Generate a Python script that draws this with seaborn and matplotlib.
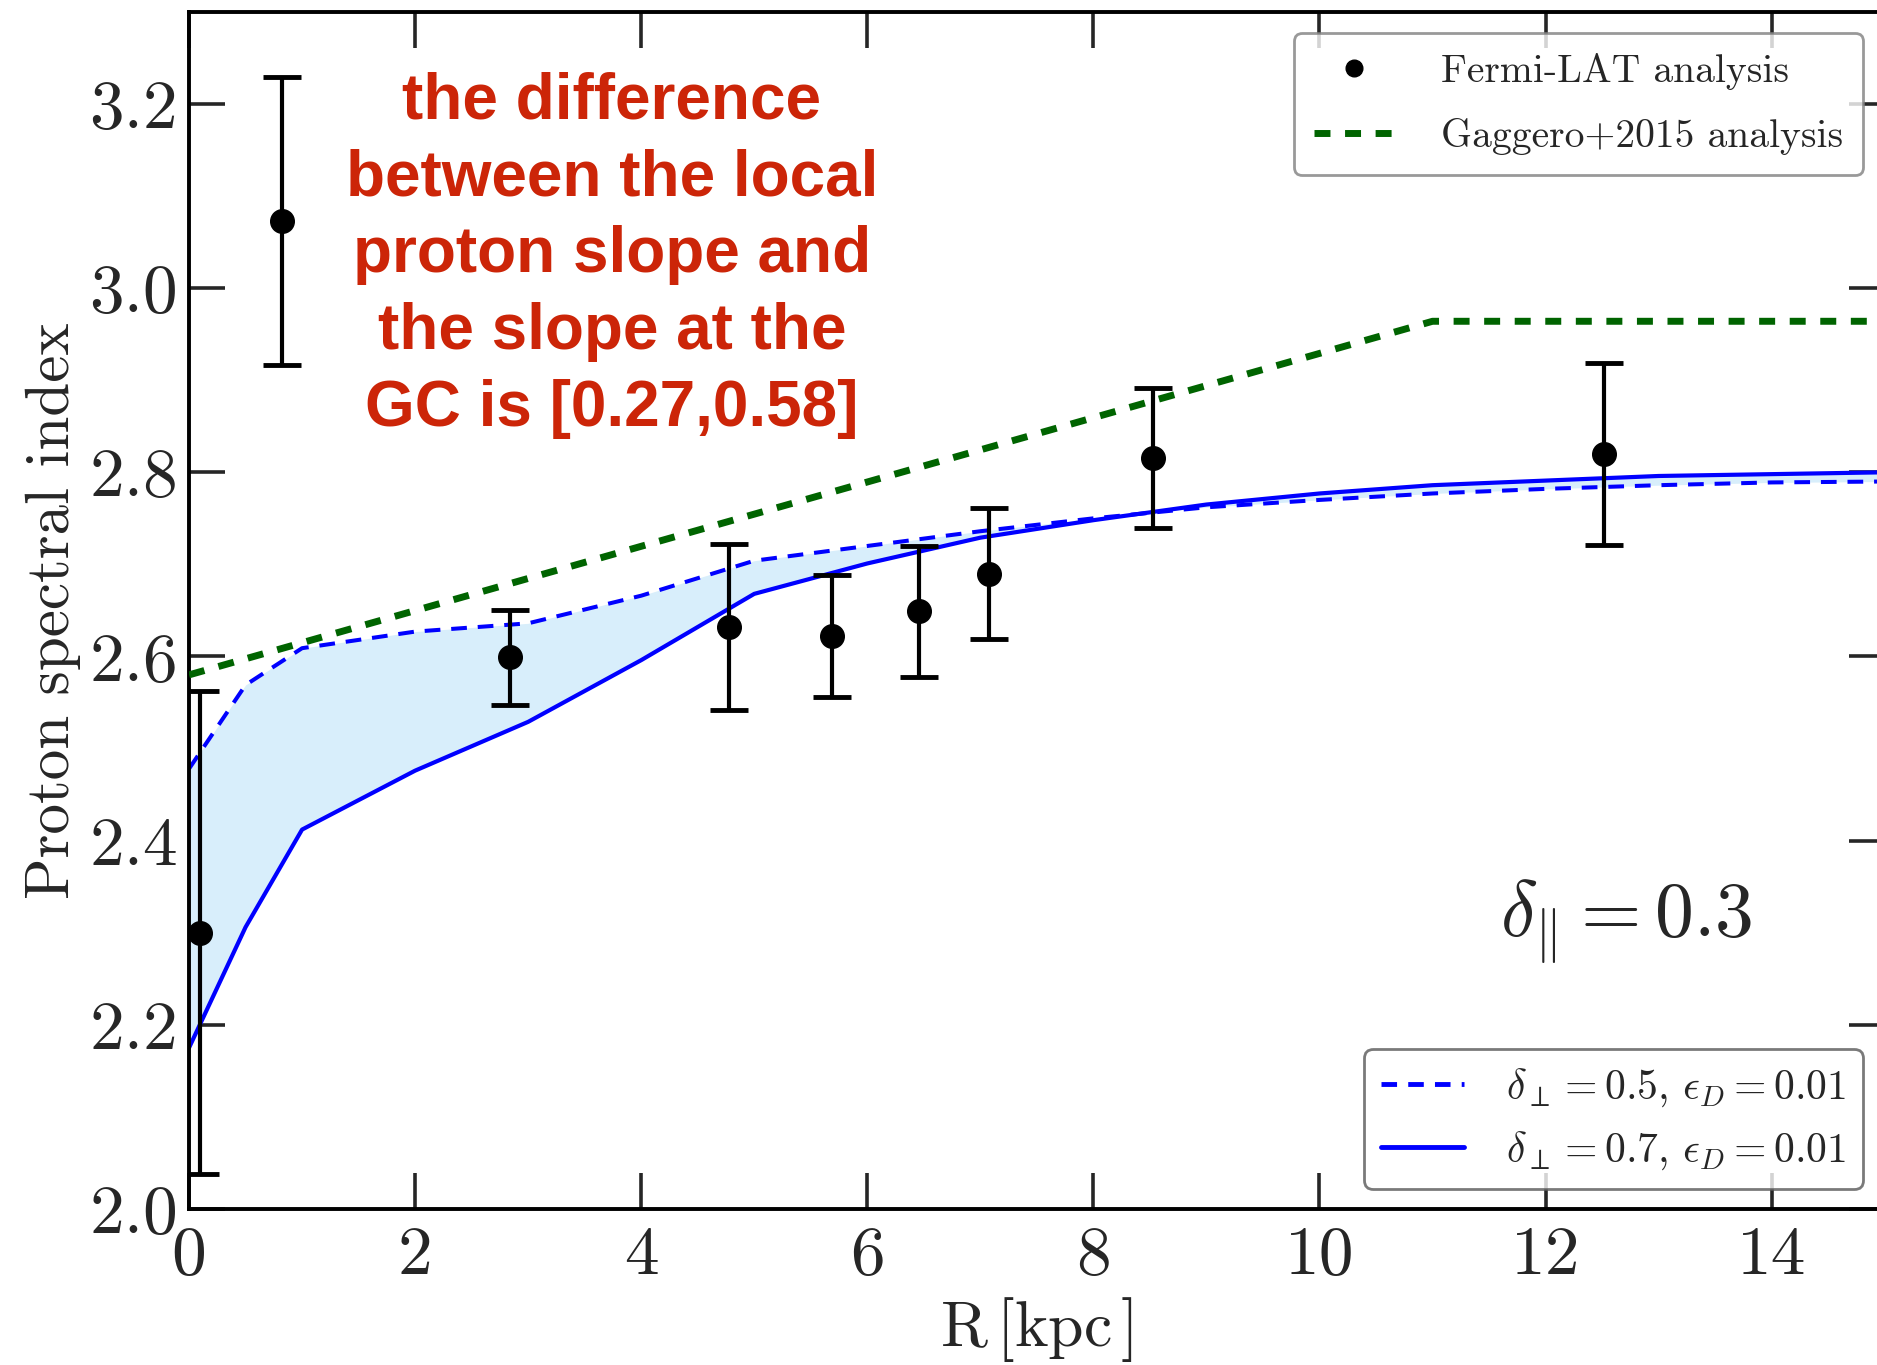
import numpy as np
import pandas as pd
import matplotlib
matplotlib.use("Agg")
import matplotlib.pyplot as plt
import seaborn as sns
from matplotlib.lines import Line2D

# ---------------- data ----------------
R_model = [0, 0.5, 1, 2, 3, 4, 5, 6, 7, 8, 9, 10, 11, 12, 13, 14, 15]
idx_d05 = [2.478, 2.569, 2.609, 2.627, 2.636, 2.666, 2.704, 2.720, 2.736, 2.750,
           2.762, 2.770, 2.777, 2.782, 2.786, 2.789, 2.790]
idx_d07 = [2.175, 2.306, 2.412, 2.476, 2.529, 2.596, 2.668, 2.701, 2.729, 2.748,
           2.765, 2.777, 2.786, 2.791, 2.796, 2.798, 2.800]

R_gaggero = [0, 11, 15]
idx_gaggero = [2.580, 2.964, 2.964]

R_fermi = [0.10, 2.84, 4.78, 5.69, 6.46, 7.08, 8.53, 12.52]
idx_fermi = [2.300, 2.599, 2.632, 2.622, 2.649, 2.690, 2.816, 2.820]
err_fermi = [0.262, 0.052, 0.090, 0.066, 0.071, 0.071, 0.076, 0.099]

R_example = [0.82]
idx_example = [3.073]
err_example = [0.156]

annot_text = ("the difference\nbetween the local\nproton slope and\n"
              "the slope at the\nGC is [0.27,0.58]")

# ---------------- style ----------------
sns.set_theme(style="white")
plt.rcParams.update({
    "font.family": "serif",
    "font.serif": ["cmr10"],
    "mathtext.fontset": "cm",
    "axes.unicode_minus": False,
    "axes.formatter.use_mathtext": True,
})

fig = plt.figure(figsize=(18.77, 13.65), dpi=100)
ax = fig.add_axes([0.1007, 0.1143, 0.9034, 0.877])

df_model = pd.DataFrame({"R": R_model, "d05": idx_d05, "d07": idx_d07})
df_g = pd.DataFrame({"R": R_gaggero, "idx": idx_gaggero})

ax.fill_between(df_model["R"], df_model["d05"], df_model["d07"],
                color="#d8eefb", linewidth=0, zorder=1)

sns.lineplot(data=df_g, x="R", y="idx", ax=ax, color="#006400", lw=5,
             sort=False, estimator=None, zorder=3)
ax.lines[-1].set_dashes((2.3, 2.1))
ax.lines[-1].set_dash_capstyle("butt")

sns.lineplot(data=df_model, x="R", y="d05", ax=ax, color="#0000ff", lw=2.9,
             sort=False, estimator=None, zorder=2)
ax.lines[-1].set_dashes((3.9, 2.7))

sns.lineplot(data=df_model, x="R", y="d07", ax=ax, color="#0000ff", lw=3.0,
             sort=False, estimator=None, zorder=2)

ax.errorbar(R_fermi, idx_fermi, yerr=err_fermi, fmt="o", color="black",
            ms=17, elinewidth=3.0, capsize=14, capthick=3.5, zorder=5)
ax.errorbar(R_example, idx_example, yerr=err_example, fmt="o", color="black",
            ms=17, elinewidth=3.0, capsize=14, capthick=3.5, zorder=5)

ax.text(3.74, 3.036, annot_text, color="#cc2508", fontsize=46,
        fontweight="bold", family=["Liberation Sans", "DejaVu Sans"],
        ha="center", va="center", multialignment="center", linespacing=1.36,
        zorder=6)

ax.text(12.71, 2.312, r"$\delta_{\|} = 0.3$", fontsize=56,
        ha="center", va="center")

# ---------------- axes ----------------
ax.set_xlim(0, 15)
ax.set_ylim(2.0, 3.3)
ax.set_xticks([0, 2, 4, 6, 8, 10, 12, 14])
ax.set_yticks([2.0, 2.2, 2.4, 2.6, 2.8, 3.0, 3.2])
ax.set_yticklabels(["2.0", "2.2", "2.4", "2.6", "2.8", "3.0", "3.2"])
ax.set_xticklabels(["0", "2", "4", "6", "8", "10", "12", "14"])
ax.tick_params(direction="in", length=26, width=2.6, labelsize=50,
               top=True, right=True, bottom=True, left=True)
ax.tick_params(axis="x", pad=12)
ax.tick_params(axis="y", pad=8)
for s in ax.spines.values():
    s.set_linewidth(2.8)
    s.set_color("black")
    s.set_visible(True)

ax.set_xlabel(r"$\mathrm{R\,[kpc\,]}$", fontsize=46, labelpad=6)
ax.set_ylabel("Proton spectral index", fontsize=44, labelpad=6)

# ---------------- legends ----------------
h1 = [Line2D([], [], marker="o", ls="none", color="black", ms=12),
      Line2D([], [], color="#006400", lw=5, dashes=(2.3, 2.1))]
leg1 = ax.legend(h1, ["Fermi-LAT analysis", "Gaggero+2015 analysis"],
                 loc="upper right", bbox_to_anchor=(0.987, 0.982),
                 borderaxespad=0, fontsize=28.5, handlelength=2.0,
                 labelspacing=0.7, handletextpad=1.2, borderpad=0.5,
                 frameon=True, fancybox=True, edgecolor="0.5")
leg1.get_frame().set_linewidth(2)
ax.add_artist(leg1)

h2 = [Line2D([], [], color="#0000ff", lw=3.5, dashes=(3.2, 2.3)),
      Line2D([], [], color="#0000ff", lw=3.5)]
leg2 = ax.legend(h2, [r"$\delta_\perp = 0.5,\, \epsilon_D = 0.01$",
                      r"$\delta_\perp = 0.7,\, \epsilon_D = 0.01$"],
                 loc="lower right", bbox_to_anchor=(0.987, 0.017),
                 borderaxespad=0, fontsize=30, handlelength=2.0,
                 labelspacing=0.5, handletextpad=1.0,
                 frameon=True, fancybox=True, edgecolor="0.35")
leg2.get_frame().set_linewidth(2)

fig.savefig("out.png", dpi=100)
